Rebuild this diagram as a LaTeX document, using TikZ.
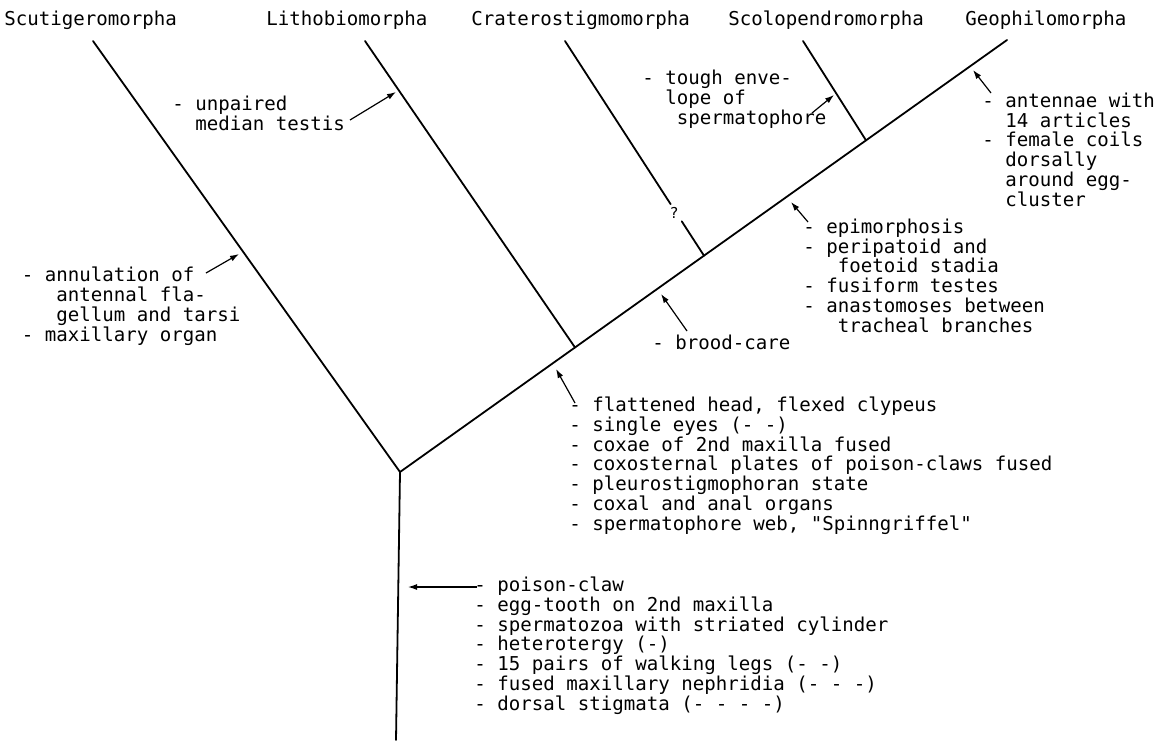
\documentclass[tikz,border=0pt]{standalone}
\usepackage{fontspec}
\newfontfamily\tfont{DejaVu Sans Mono}
\usetikzlibrary{arrows.meta,calc}
\frenchspacing
\tikzset{
  tree/.style={line width=0.9pt, line cap=round},
  arr/.style={line width=0.6pt, -{Latex[length=4.5pt,width=3pt]}},
  txt/.style={inner sep=0pt, anchor=base west, align=left,
    font=\tfont\fontsize{9.55pt}{9.85pt}\selectfont},
  qm/.style={inner sep=0.3pt, font=\tfont\fontsize{7.5pt}{8pt}\selectfont},
}
\begin{document}
\begin{tikzpicture}[x=0.5pt,y=-0.5pt]
\useasboundingbox (0,0) rectangle (1170,740);
% tree coordinates
\coordinate (R) at (400,472);
\coordinate (B) at (396,740);
\coordinate (G) at (1007,40);
\coordinate (St) at (93,41);
\coordinate (Lt) at (365,41);
\coordinate (Ct) at (565,41);
\coordinate (Sot) at (803,41);
\coordinate (JL) at ($(R)!0.2883!(G)$);
\coordinate (JC) at ($(R)!0.5008!(G)$);
\coordinate (JS) at ($(R)!0.7677!(G)$);
% taxon labels
\node[txt] (lS) at (4,25) {Scutigeromorpha};
\node[txt] (lL) at (266,25) {Lithobiomorpha};
\node[txt] (lC) at (471,25) {Craterostigmomorpha};
\node[txt] (lSo) at (728,25) {Scolopendromorpha};
\node[txt] (lG) at (965,25) {Geophilomorpha};
% tree
\draw[tree] (St) -- (R) -- (B);
\draw[tree] (R) -- (G);
\draw[tree] (Lt) -- (JL);
\draw[tree] (Sot) -- (JS);
\node[qm] (q) at ($(Ct)!0.80!(JC)+(-2,0)$) {?};
\draw[tree] (Ct) -- ($(Ct)!0.76!(JC)$);
\draw[tree] ($(Ct)!0.84!(JC)$) -- (JC);
% character lists (base anchor = baseline of the last line)
\node[txt] (tA) at (21.5,341) {- annulation of\\\phantom{xxx}antennal fla-\\\phantom{xxx}gellum and tarsi\\- maxillary organ};
\node[txt] (tU) at (172,130) {- unpaired\\\phantom{xx}median testis};
\node[txt] (tT) at (642,124) {- tough enve-\\\phantom{xx}lope of\\\phantom{xxx}spermatophore};
\node[txt] (tG) at (982,206) {- antennae with\\\phantom{xx}14 articles\\- female coils\\\phantom{xx}dorsally\\\phantom{xx}around egg-\\\phantom{xx}cluster};
\node[txt] (tE) at (803,332) {- epimorphosis\\- peripatoid and\\\phantom{xxx}foetoid stadia\\- fusiform testes\\- anastomoses between\\\phantom{xxx}tracheal branches};
\node[txt] (tB) at (652,349) {- brood-care};
\node[txt] (tF) at (569,530) {- flattened head, flexed clypeus\\- single eyes (- -)\\- coxae of 2nd maxilla fused\\- coxosternal plates of poison-claws fused\\- pleurostigmophoran state\\- coxal and anal organs\\- spermatophore web, "Spinngriffel"};
\node[txt] (tP) at (474,710) {- poison-claw\\- egg-tooth on 2nd maxilla\\- spermatozoa with striated cylinder\\- heterotergy (-)\\- 15 pairs of walking legs (- -)\\- fused maxillary nephridia (- - -)\\- dorsal stigmata (- - - -)};
% arrow ends
\coordinate (a1s) at (206,273); \coordinate (a1e) at (239,254);
\coordinate (a2s) at (350,120); \coordinate (a2e) at (396,92);
\coordinate (a3s) at (812,113); \coordinate (a3e) at (834,95);
\coordinate (a4s) at (991,93);  \coordinate (a4e) at (973,70);
\coordinate (a5s) at (808,222); \coordinate (a5e) at (791,202);
\coordinate (a6s) at (687,331); \coordinate (a6e) at (661,294);
\coordinate (a7s) at (575,403); \coordinate (a7e) at (556,369);
\coordinate (a8s) at (477,587); \coordinate (a8e) at (408,587);
\foreach \i in {1,...,8} {\draw[arr] (a\i s) -- (a\i e);}
\end{tikzpicture}
\end{document}
